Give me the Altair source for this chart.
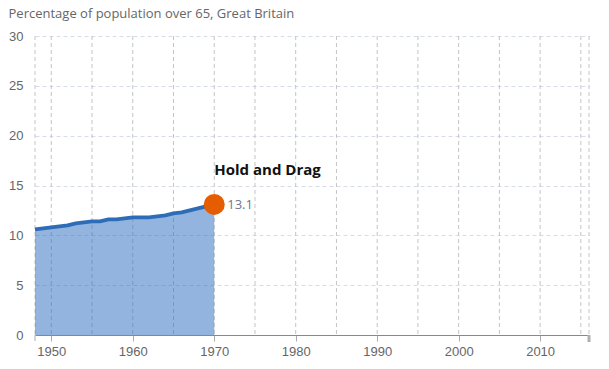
import altair as alt
import pandas as pd

years = list(range(1948, 1971))
values = [10.6, 10.7, 10.8, 10.9, 11.0, 11.2, 11.3, 11.4, 11.4, 11.6, 11.6, 11.7,
          11.8, 11.8, 11.8, 11.9, 12.0, 12.2, 12.3, 12.5, 12.7, 12.9, 13.1]
x_domain = [1948, 2016]
y_ticks = [0, 5, 10, 15, 20, 25, 30]
x_grid = [1948] + list(range(1950, 2016, 5)) + [2016]
x_label_years = [1950, 1960, 1970, 1980, 1990, 2000, 2010]
x_start_year = [1948]
x_end_year = [2016]
title_text = "Percentage of population over 65, Great Britain"
handle_text = "Hold and Drag"

PLOT_W, PLOT_H = 554, 299

df = pd.DataFrame({"year": years, "pct": values})
last = df.tail(1).copy()
last["label"] = last["pct"].map(lambda v: f"{v:.1f}")
last["hint"] = handle_text
grid_df = pd.DataFrame({"year": x_grid})
start_df = pd.DataFrame({"year": x_start_year})
end_df = pd.DataFrame({"year": x_end_year})

x_enc = alt.X(
    "year:Q",
    scale=alt.Scale(domain=x_domain, nice=False, zero=False),
    axis=alt.Axis(
        values=x_label_years,
        title=None,
        format="d",
        labelFont="Liberation Sans",
        labelFontSize=13,
        labelColor="#666666",
        labelPadding=4,
        domainColor="#888888",
        domainWidth=1,
        tickColor="#aaaaaa",
        tickSize=6,
        grid=False,
    ),
)

y_enc = alt.Y(
    "pct:Q",
    scale=alt.Scale(domain=[0, 30], nice=False),
    axis=alt.Axis(
        values=y_ticks,
        title=None,
        domain=False,
        ticks=False,
        labelFont="Liberation Sans",
        labelFontSize=13,
        labelColor="#666666",
        labelPadding=12,
        grid=True,
        gridColor="#d6dde9",
        gridDash=[4, 3],
        gridWidth=1,
    ),
)

vgrid = alt.Chart(grid_df).mark_rule(color="#c4c4c4", strokeWidth=1, strokeDash=[4, 3]).encode(
    x=x_enc, y=alt.value(0), y2=alt.value(PLOT_H)
)

base = alt.Chart(df)
area = base.mark_area(color="#2f6fc0", opacity=0.52).encode(x="year:Q", y=y_enc)
line = base.mark_line(color="#2d6db8", strokeWidth=3.8).encode(x="year:Q", y="pct:Q")

start_tick = alt.Chart(start_df).mark_rule(color="#aaaaaa", strokeWidth=1).encode(
    x="year:Q", y=alt.value(PLOT_H), y2=alt.value(PLOT_H + 6)
)
end_tick = alt.Chart(end_df).mark_rule(color="#b0b0b0", strokeWidth=3).encode(
    x="year:Q", y=alt.value(PLOT_H), y2=alt.value(PLOT_H + 7)
)

lb = alt.Chart(last)
point = lb.mark_circle(color="#e65c00", opacity=1, size=440).encode(x="year:Q", y="pct:Q")
val_text = lb.mark_text(
    align="left", baseline="middle", dx=13, dy=1,
    font="Open Sans", fontSize=13, color="#6b7894"
).encode(x="year:Q", y="pct:Q", text="label:N")
hint_text = lb.mark_text(
    align="left", baseline="middle", dx=0, dy=-34,
    font="Open Sans", fontSize=15, fontWeight="bold", color="#111111"
).encode(x="year:Q", y="pct:Q", text="hint:N")

chart = (
    alt.layer(vgrid, area, line, start_tick, end_tick, point, val_text, hint_text)
    .properties(
        width=PLOT_W,
        height=PLOT_H,
        padding={"left": 0, "top": 0, "right": 5, "bottom": 0},
        title=alt.TitleParams(
            title_text,
            anchor="start",
            frame="bounds",
            font="Open Sans",
            fontSize=13,
            fontWeight="normal",
            color="#666666",
            offset=9,
        ),
    )
    .configure_view(stroke=None)
)

chart.save("out.html", embed_options={"renderer": "svg", "actions": False})
